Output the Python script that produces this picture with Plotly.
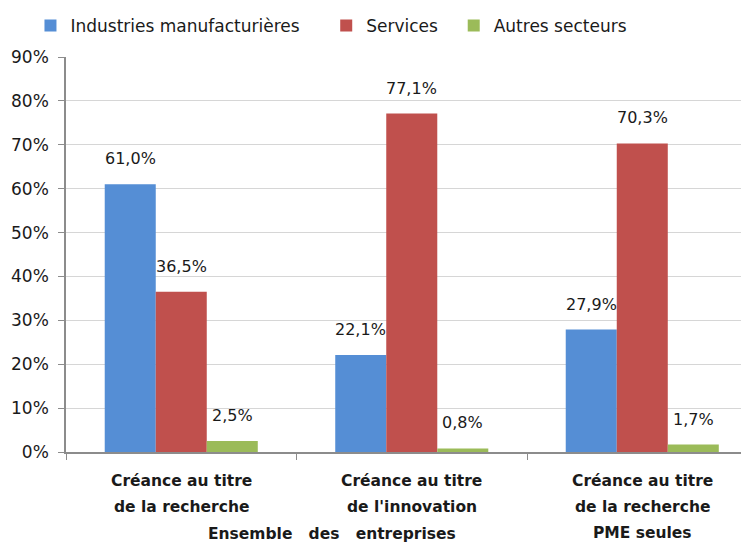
import plotly.graph_objects as go

categories = ["Créance au titre de la recherche",
              "Créance au titre de l'innovation",
              "Créance au titre de la recherche PME seules"]
category_lines = [["Créance au titre", "de la recherche"],
                  ["Créance au titre", "de l'innovation"],
                  ["Créance au titre", "de la recherche", "PME seules"]]
group_label = "Ensemble\u00a0\u00a0\u00a0des\u00a0\u00a0\u00a0entreprises"
series_names = ["Industries manufacturières", "Services", "Autres secteurs"]
industries = [61.0, 22.1, 27.9]
services = [36.5, 77.1, 70.3]
autres = [2.5, 0.8, 1.7]
colors = ["#558ED5", "#C0504D", "#9BBB59"]
y_ticks = [0, 10, 20, 30, 40, 50, 60, 70, 80, 90]

FONT = "'DejaVu Sans', sans-serif"
TXT = "#1a1a1a"
legend_pad = [4, 2, 0]  # trailing non-breaking spaces for legend spacing

fig = go.Figure()
all_series = [industries, services, autres]
for name, vals, col, pad in zip(series_names, all_series, colors, legend_pad):
    fig.add_trace(go.Bar(
        x=categories, y=vals, name=name + "\u00a0" * pad,
        marker=dict(color=col, line=dict(width=0)),
    ))

# data labels
offsets = [-1, 0, 1]
for si, vals in enumerate(all_series):
    for ci, v in enumerate(vals):
        fig.add_annotation(
            x=ci + offsets[si] * 0.2214, y=v, xref="x", yref="y",
            text=f"{v:.1f}%".replace(".", ","),
            showarrow=False, yanchor="bottom", yshift=14,
            font=dict(family=FONT, size=16, color=TXT),
        )

# category labels (one annotation per line)
for ci, lines in enumerate(category_lines):
    for li, line in enumerate(lines):
        fig.add_annotation(
            x=ci, y=0, xref="x", yref="paper",
            text=line, showarrow=False, yanchor="middle",
            yshift=-(29 + 26 * li),
            font=dict(family=FONT, size=15.5, color=TXT, weight="bold"),
        )

fig.add_annotation(
    x=0.654, y=0, xref="x", yref="paper",
    text=group_label, showarrow=False, yanchor="middle", yshift=-82,
    font=dict(family=FONT, size=15.5, color=TXT, weight="bold"),
)

# page body has an 8px margin: compensate so the plot lands where the reference has it
fig.update_layout(
    width=749, height=542,
    margin=dict(l=58, r=8, t=49, b=98, autoexpand=False),
    paper_bgcolor="white", plot_bgcolor="white",
    barmode="group", bargap=0.336, bargroupgap=0,
    font=dict(family=FONT, size=16, color=TXT),
    legend=dict(orientation="h", x=0.030, xref="container", xanchor="left",
                y=1.0, yref="container", yanchor="top",
                font=dict(family=FONT, size=17, color=TXT),
                traceorder="normal", bgcolor="rgba(0,0,0,0)"),
    showlegend=True,
    xaxis=dict(
        type="category", range=[-0.5, 2.463], automargin=False,
        showline=True, linecolor="#8c8c8c", linewidth=1.5,
        ticks="outside", tickson="boundaries", ticklen=6, tickcolor="#8c8c8c",
        showticklabels=False, showgrid=False,
    ),
    yaxis=dict(
        range=[0, 90], tickvals=y_ticks, automargin=False,
        ticktext=[f"{t}%" for t in y_ticks],
        showgrid=True, gridcolor="#d6d6d6", gridwidth=1.2,
        showline=True, linecolor="#8c8c8c", linewidth=1.5,
        ticks="outside", ticklen=6, tickcolor="#8c8c8c", ticklabelstandoff=6,
        tickfont=dict(family=FONT, size=17, color=TXT),
        zeroline=False,
    ),
)

fig.write_html("out.html")
